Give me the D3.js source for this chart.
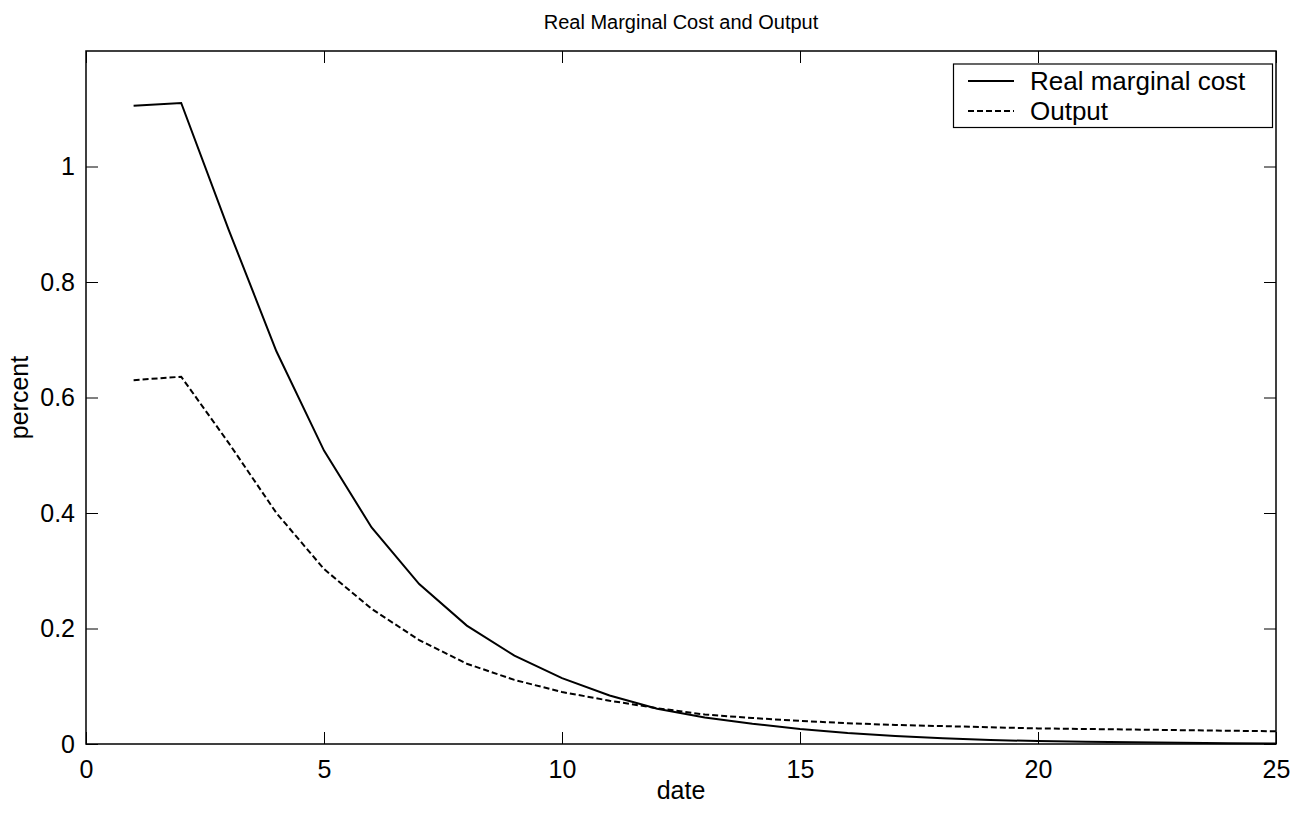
<!DOCTYPE html>
<html>
<head>
<meta charset="utf-8">
<script src="https://cdn.jsdelivr.net/npm/d3@7"></script>
<style>
  body { margin: 0; background: #fff; }
  svg text { font-family: "Liberation Sans", Arial, sans-serif; fill: #000; }
</style>
</head>
<body>
<script>
// values
const dates = [1,2,3,4,5,6,7,8,9,10,11,12,13,14,15,16,17,18,19,20,21,22,23,24,25]
const marginalCost = [1.105,1.11,0.89,0.68,0.508,0.375,0.277,0.205,0.153,0.114,0.084,0.061,0.046,0.035,0.026,0.019,0.014,0.010,0.007,0.005,0.004,0.003,0.002,0.0015,0.001]
const output = [0.63,0.636,0.521,0.40,0.303,0.234,0.180,0.139,0.111,0.090,0.075,0.062,0.051,0.045,0.040,0.036,0.033,0.031,0.029,0.027,0.026,0.025,0.024,0.023,0.022]
const xTicks = [0,5,10,15,20,25]
const yTicks = [0,0.2,0.4,0.6,0.8,1]
const seriesNames = ['Real marginal cost', 'Output']

const W = 1304, H = 815
const m = { left: 86, right: 28, top: 51, bottom: 71 }
const fs = 25

const svg = d3.select('body').append('svg')
  .attr('width', W).attr('height', H)

const x = d3.scaleLinear().domain([0, 25]).range([m.left, W - m.right])
const y = d3.scaleLinear().domain([0, 1.2]).range([H - m.bottom, m.top])

// title
svg.append('text')
  .attr('x', (x(0) + x(25)) / 2).attr('y', 29)
  .attr('text-anchor', 'middle').attr('font-size', 20)
  .text('Real Marginal Cost and Output')

// axes with inward ticks, mirrored on top/right
const tick = 12
svg.append('g').attr('transform', `translate(0,${y(0)})`)
  .call(d3.axisBottom(x).tickValues(xTicks).tickSize(-tick).tickPadding(16).tickFormat(d3.format('d')))
svg.append('g').attr('transform', `translate(0,${y(1.2)})`)
  .call(d3.axisTop(x).tickValues(xTicks).tickSize(-tick).tickFormat(''))
svg.append('g').attr('transform', `translate(${x(0)},0)`)
  .call(d3.axisLeft(y).tickValues(yTicks).tickSize(-tick).tickPadding(11).tickFormat(d => d === 0 || d === 1 ? d3.format('d')(d) : d3.format('.1f')(d)))
svg.append('g').attr('transform', `translate(${x(25)},0)`)
  .call(d3.axisRight(y).tickValues(yTicks).tickSize(-tick).tickFormat(''))

svg.selectAll('.domain').remove()
svg.selectAll('.tick line').attr('stroke', '#000').attr('stroke-width', 1)
svg.selectAll('.tick text').attr('font-size', fs)

// frame
svg.append('rect')
  .attr('x', x(0)).attr('y', y(1.2))
  .attr('width', x(25) - x(0)).attr('height', y(0) - y(1.2))
  .attr('fill', 'none').attr('stroke', '#000').attr('stroke-width', 1.5)

// axis labels
svg.append('text')
  .attr('x', (x(0) + x(25)) / 2).attr('y', 799)
  .attr('text-anchor', 'middle').attr('font-size', fs)
  .text('date')
svg.append('text')
  .attr('transform', `translate(28,${(y(0) + y(1.2)) / 2}) rotate(-90)`)
  .attr('text-anchor', 'middle').attr('font-size', fs)
  .text('percent')

// lines
const line = d3.line().x((d, i) => x(dates[i])).y(d => y(d))
svg.append('path').datum(marginalCost)
  .attr('d', line).attr('fill', 'none')
  .attr('stroke', '#000').attr('stroke-width', 2)
svg.append('path').datum(output)
  .attr('d', line).attr('fill', 'none')
  .attr('stroke', '#000').attr('stroke-width', 2).attr('stroke-dasharray', '6,3')

// legend
const lg = svg.append('g')
lg.append('rect')
  .attr('x', 953.5).attr('y', 64)
  .attr('width', 319).attr('height', 63.5)
  .attr('fill', '#fff').attr('stroke', '#000').attr('stroke-width', 1.2)
seriesNames.forEach((name, i) => {
  const ly = 81 + i * 30
  lg.append('line')
    .attr('x1', 968).attr('x2', 1014).attr('y1', ly).attr('y2', ly)
    .attr('stroke', '#000').attr('stroke-width', 2)
    .attr('stroke-dasharray', i === 1 ? '6,3' : null)
  lg.append('text')
    .attr('x', 1030).attr('y', ly).attr('dy', '0.35em')
    .attr('font-size', 26)
    .text(name)
})
</script>
</body>
</html>
